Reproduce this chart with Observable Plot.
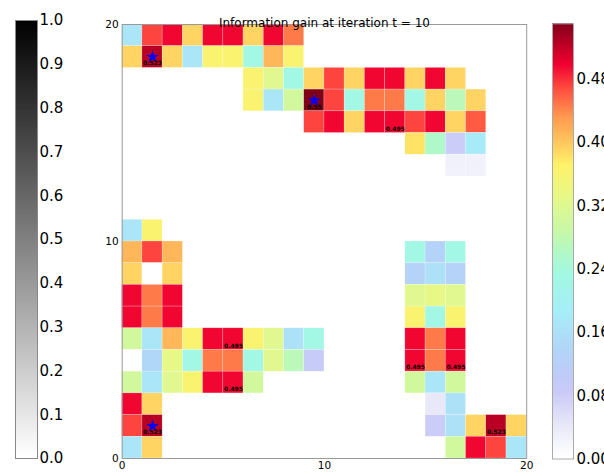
<!DOCTYPE html>
<html><head><meta charset="utf-8">
<script src="https://cdn.jsdelivr.net/npm/d3@7"></script>
<script src="https://cdn.jsdelivr.net/npm/@observablehq/plot@0.6"></script>
<style>
html,body{margin:0;padding:0;background:#fff;overflow:hidden;}
#wrap{position:relative;width:604px;height:472px;}
#wrap svg{position:absolute;left:0;top:0;background:transparent;}
</style></head><body><div id="wrap"></div>
<script>
const _ = null;
// Information gain per grid cell, rows listed from top (y = 19) to bottom (y = 0), columns x = 0..19
const valueRows = [
  [0.17,0.47,0.495,0.39,0.495,0.495,0.39,0.495,0.445,_,_,_,_,_,_,_,_,_,_,_],
  [0.39,0.523,0.39,0.17,0.36,0.36,0.225,0.41,0.36,_,_,_,_,_,_,_,_,_,_,_],
  [_,_,_,_,_,_,0.36,0.32,0.225,0.39,0.47,0.39,0.495,0.495,0.39,0.495,0.39,_,_,_],
  [_,_,_,_,_,_,0.36,0.17,0.30,0.55,0.47,0.225,0.445,0.445,0.225,0.39,0.27,0.39,_,_],
  [_,_,_,_,_,_,_,_,_,0.47,0.495,0.39,0.495,0.495,0.47,0.495,0.39,0.46,_,_],
  [_,_,_,_,_,_,_,_,_,_,_,_,_,_,0.38,0.255,0.08,0.18,_,_],
  [_,_,_,_,_,_,_,_,_,_,_,_,_,_,_,_,0.025,0.025,_,_],
  [_,_,_,_,_,_,_,_,_,_,_,_,_,_,_,_,_,_,_,_],
  [_,_,_,_,_,_,_,_,_,_,_,_,_,_,_,_,_,_,_,_],
  [0.17,0.36,_,_,_,_,_,_,_,_,_,_,_,_,_,_,_,_,_,_],
  [0.41,0.47,0.41,_,_,_,_,_,_,_,_,_,_,_,0.225,0.13,0.225,_,_,_],
  [0.39,0,0.39,_,_,_,_,_,_,_,_,_,_,_,0.13,0.16,0.13,_,_,_],
  [0.495,0.445,0.495,_,_,_,_,_,_,_,_,_,_,_,0.32,0.33,0.32,_,_,_],
  [0.495,0.445,0.495,_,_,_,_,_,_,_,_,_,_,_,0.36,0.225,0.36,_,_,_],
  [0.30,0.17,0.41,0.36,0.495,0.495,0.36,0.32,0.16,0.225,_,_,_,_,0.495,0.445,0.495,_,_,_],
  [0,0.14,0.33,0.225,0.445,0.445,0.225,0.32,0.27,0.09,_,_,_,_,0.495,0.445,0.495,_,_,_],
  [0.30,0.17,0.32,0.36,0.495,0.495,0.30,_,_,_,_,_,_,_,0.30,0.17,0.30,_,_,_],
  [0.495,0.39,_,_,_,_,_,_,_,_,_,_,_,_,_,0.04,0.16,_,_,_],
  [0.47,0.523,_,_,_,_,_,_,_,_,_,_,_,_,_,0.08,0.16,0.39,0.523,0.39],
  [0.17,0.39,_,_,_,_,_,_,_,_,_,_,_,_,_,_,0.30,0.495,0.47,0.17]
];
const starCells = [{x:1,y:18},{x:9,y:16},{x:1,y:1}];
const labelCells = [
  {x:1,y:18,text:"0.523"},{x:9,y:16,text:"0.55"},{x:13,y:15,text:"0.495"},
  {x:5,y:5,text:"0.495"},{x:5,y:3,text:"0.495"},{x:14,y:4,text:"0.495"},
  {x:16,y:4,text:"0.495"},{x:1,y:1,text:"0.523"},{x:18,y:1,text:"0.523"}
];
const titleText = "Information gain at iteration t = 10";
const axisTicks = [0,10,20];
const grayTicks = [0,0.1,0.2,0.3,0.4,0.5,0.6,0.7,0.8,0.9,1.0];
const gainTicks = [0,0.08,0.16,0.24,0.32,0.40,0.48];
const gainMax = 0.55;
// colormap stops
const gainStops  = [0,0.04,0.083,0.11,0.143,0.185,0.231,0.257,0.286,0.329,0.37,0.395,0.43,0.465,0.497,0.55];
const gainColors = ["#ffffff","#e8e8f8","#cacaf8","#bcccf8","#b0d8f8","#a6eef8","#a2f8e2","#b0f8c8","#c8f8a8","#e6f888","#fff268","#ffcc60","#ff9a50","#ff5040","#f00030","#800018"];

const cells = [];
valueRows.forEach((row, r) => row.forEach((v, c) => { if (v !== null) cells.push({x: c, y: 19 - r, v}); }));

const font = "DejaVu Sans";
const wrap = document.getElementById("wrap");

const main = Plot.plot({
  width: 604, height: 472,
  marginLeft: 121.7, marginRight: 77.8, marginTop: 24, marginBottom: 14,
  style: {fontFamily: font, background: "transparent", color: "black"},
  x: {domain: [0, 20]},
  y: {domain: [0, 20]},
  color: {type: "linear", domain: gainStops, range: gainColors, interpolate: "rgb", clamp: true},
  marks: [
    Plot.rect(cells, {x1: "x", x2: d => d.x + 1, y1: "y", y2: d => d.y + 1, fill: "v",
      stroke: "white", strokeOpacity: 0.35, strokeWidth: 0.6}),
    Plot.frame({stroke: "#999"}),
    Plot.axisX({ticks: axisTicks, tickSize: 0, tickPadding: 3, fontSize: 10.5, tickFormat: d => String(d), label: null}),
    Plot.axisY({ticks: axisTicks, tickSize: 0, tickPadding: 3.5, fontSize: 10.5, tickFormat: d => String(d), label: null}),
    Plot.dot(starCells, {x: d => d.x + 0.5, y: d => d.y + 0.5, symbol: "star", r: 4, fill: "blue", stroke: "none"}),
    Plot.text(labelCells, {x: d => d.x + 0.5, y: d => d.y + 0.2, text: "text", fontSize: 6, fontWeight: "bold", fill: "black"}),
    Plot.text([titleText], {frameAnchor: "top", dy: -6, text: d => d, fontSize: 12, fill: "black"})
  ]
});
wrap.appendChild(main);

const graySteps = d3.range(0, 1, 0.005);
const grayBar = Plot.plot({
  width: 604, height: 472,
  marginLeft: 15, marginRight: 604 - 37, marginTop: 20, marginBottom: 14,
  style: {fontFamily: font, background: "transparent", color: "black"},
  x: {domain: [0, 1], axis: null},
  y: {domain: [0, 1]},
  color: {type: "linear", domain: [0, 1], range: ["#ffffff", "#000000"]},
  marks: [
    Plot.rect(graySteps, {x1: 0, x2: 1, y1: d => d, y2: d => Math.min(1, d + 0.009), fill: d => d}),
    Plot.frame({stroke: "#888"}),
    Plot.axisY({anchor: "right", ticks: grayTicks, tickFormat: d3.format(".1f"), tickSize: 0, tickPadding: 2, fontSize: 15, label: null})
  ]
});
wrap.appendChild(grayBar);

const gainSteps = d3.range(0, gainMax, 0.0025);
const gainBar = Plot.plot({
  width: 604, height: 472,
  marginLeft: 552, marginRight: 31, marginTop: 23.3, marginBottom: 13.5,
  style: {fontFamily: font, background: "transparent", color: "black"},
  x: {domain: [0, 1], axis: null},
  y: {domain: [0, gainMax]},
  color: {type: "linear", domain: gainStops, range: gainColors, interpolate: "rgb", clamp: true},
  marks: [
    Plot.rect(gainSteps, {x1: 0, x2: 1, y1: d => d, y2: d => Math.min(gainMax, d + 0.0045), fill: d => d}),
    Plot.frame({stroke: "#aaa"}),
    Plot.axisY({anchor: "right", ticks: gainTicks, tickFormat: d3.format(".2f"), tickSize: 0, tickPadding: 3, fontSize: 15, label: null})
  ]
});
wrap.appendChild(gainBar);
</script></body></html>
